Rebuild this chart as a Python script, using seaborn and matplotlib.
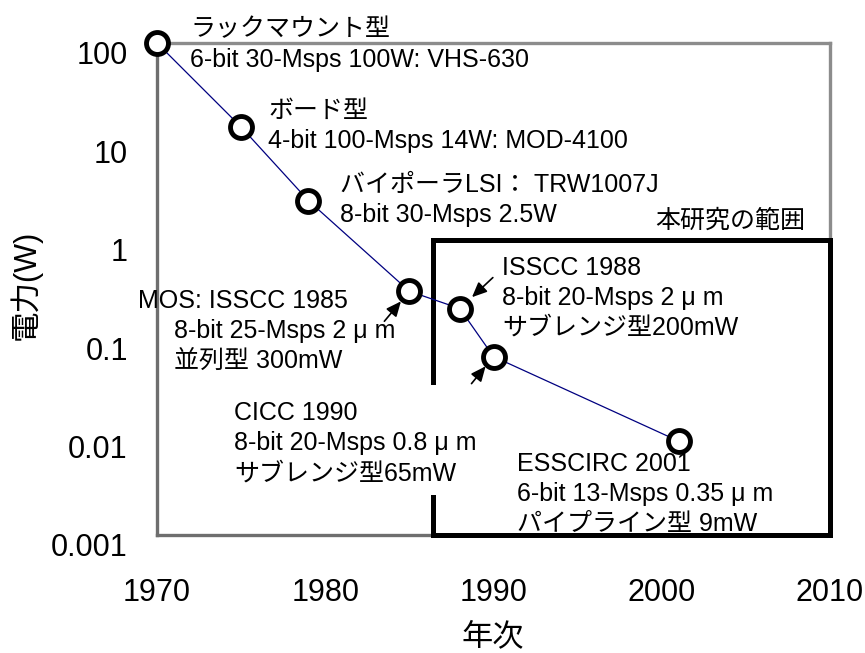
import matplotlib
matplotlib.use("Agg")
import matplotlib.pyplot as plt
import matplotlib.transforms as mtransforms
from matplotlib.patches import Rectangle
from matplotlib.ticker import NullLocator
import seaborn as sns

# ADC power trend data
years = [1970, 1975, 1979, 1985, 1988, 1990, 2001]
power = [100, 14, 2.5, 0.3, 0.2, 0.065, 0.009]

ytick_vals = [0.001, 0.01, 0.1, 1, 10, 100]
ytick_labels = ["0.001", "0.01", "0.1", "1", "10", "100"]
xtick_vals = [1970, 1980, 1990, 2000, 2010]

# research scope box (year from, power to)
scope_x0 = 1986.4
scope_y1 = 1

sns.set_style("white")
plt.rcParams["font.family"] = ["Liberation Sans", "Noto Sans CJK JP"]
plt.rcParams["text.color"] = "black"
plt.rcParams["axes.labelcolor"] = "black"
plt.rcParams["xtick.color"] = "black"
plt.rcParams["ytick.color"] = "black"

fig = plt.figure(figsize=(8.65, 6.53), dpi=100)
L, B, W, H = 157, 535, 673, 492  # plot area in pixels
ax = fig.add_axes([L / 865, (653 - B) / 653, W / 865, H / 653])

sns.lineplot(x=years, y=power, ax=ax, color="#000080", linewidth=0.9,
             zorder=4, clip_on=False)
sns.scatterplot(x=years, y=power, ax=ax, s=250, facecolor="white",
                edgecolor="black", linewidth=3.5, zorder=6, clip_on=False)

ax.set_yscale("log")
ax.set_xlim(1970, 2010)
ax.set_ylim(0.001, 100)
ax.set_yticks(ytick_vals)
ax.set_yticklabels(ytick_labels)
ax.yaxis.set_minor_locator(NullLocator())
ax.set_xticks(xtick_vals)
ax.set_xticklabels([str(v) for v in xtick_vals])
ax.tick_params(axis="both", direction="in", length=7, width=1,
               color="#404040", labelsize=22)
ax.tick_params(axis="x", pad=31)
ax.tick_params(axis="y", pad=21)
off = mtransforms.ScaledTranslation(0, -0.1, fig.dpi_scale_trans)
for lab in ax.yaxis.get_majorticklabels():
    lab.set_transform(lab.get_transform() + off)

for sp in ax.spines.values():
    sp.set_color("#8c8c8c")
    sp.set_linewidth(2.4)
ax.spines["left"].set_color("#6e6e6e")
ax.spines["bottom"].set_color("#6e6e6e")
ax.grid(False)

ax.set_xlabel("年次", fontsize=22.5, va="center")
ax.xaxis.set_label_coords((493 - L) / W, (B - 637) / H)
ax.set_ylabel("電力(W)", fontsize=22, va="center")
ax.yaxis.set_label_coords((25 - L) / W, (B - 285) / H)

# black box marking the range of this study
ax.add_patch(Rectangle((scope_x0, ytick_vals[0]), xtick_vals[-1] - scope_x0,
                       scope_y1 - ytick_vals[0], fill=False, edgecolor="black",
                       linewidth=3.6, joinstyle="miter", clip_on=False, zorder=3))


def fx(px):
    return (px - L) / W


def fy(py):
    return (B - py) / H


# white text box behind the CICC label (breaks the black box line)
ax.add_patch(Rectangle((fx(220), fy(495)), fx(490) - fx(220), fy(385) - fy(495),
                       transform=ax.transAxes, facecolor="white", edgecolor="none",
                       zorder=5))

notes = [
    ("ラックマウント型", 190, 36),
    ("6-bit 30-Msps 100W: VHS-630", 190, 67),
    ("ボード型", 268, 118),
    ("4-bit 100-Msps 14W: MOD-4100", 268, 148),
    ("バイポーラLSI： TRW1007J", 340, 192),
    ("8-bit 30-Msps 2.5W", 340, 222),
    ("本研究の範囲", 655, 228),
    ("ISSCC 1988", 502, 275),
    ("8-bit 20-Msps 2 μ m", 502, 305),
    ("サブレンジ型200mW", 502, 335),
    ("MOS: ISSCC 1985", 138, 308),
    ("8-bit 25-Msps 2 μ m", 174, 338),
    ("並列型 300mW", 174, 368),
    ("CICC 1990", 234, 420),
    ("8-bit 20-Msps 0.8 μ m", 234, 450),
    ("サブレンジ型65mW", 234, 481),
    ("ESSCIRC 2001", 517, 471),
    ("6-bit 13-Msps 0.35 μ m", 517, 501),
    ("パイプライン型 9mW", 517, 531),
]
for s, px, py in notes:
    ax.text(fx(px), fy(py), s, transform=ax.transAxes, fontsize=18,
            ha="left", va="baseline", zorder=7, clip_on=False)

# arrows pointing at the 1985, 1988 and 1990 chips (offset in pixels, shrink)
arrows = {3: (-25, -30, 9.5), 4: (33, 31, 12), 5: (-22, -27, 9)}
for i, (dx, dy, shr) in arrows.items():
    ax.annotate("", xy=(years[i], power[i]), xytext=(dx, dy),
                textcoords="offset pixels",
                arrowprops=dict(arrowstyle="-|>,head_length=0.9,head_width=0.4",
                                mutation_scale=10, color="black", lw=1.2,
                                shrinkA=0, shrinkB=shr),
                zorder=6)

fig.savefig("out.png", dpi=100)
